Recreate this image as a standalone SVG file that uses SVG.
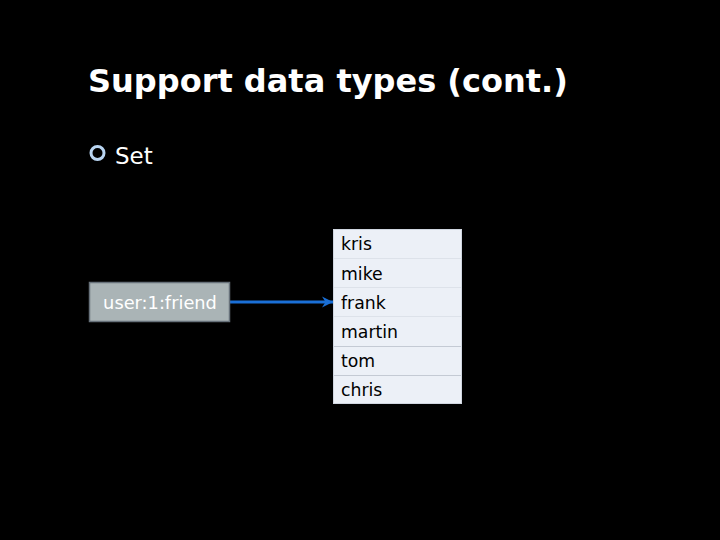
<svg xmlns="http://www.w3.org/2000/svg" width="720" height="540" viewBox="0 0 720 540">
<defs>
<style>
.t{font-family:"DejaVu Sans","Liberation Sans",sans-serif}
.item{font-size:17.3px;fill:#000}
.sep{stroke:#dde2ea;stroke-width:1}
.sep2{stroke:#c4cad4;stroke-width:1}
</style>
<marker id="ah" markerWidth="14" markerHeight="14" refX="12" refY="7" orient="auto" markerUnits="userSpaceOnUse">
<path d="M1,1.5 L12,7 L1,12.5 L4.5,7 Z" fill="#1a6fd6"/>
</marker>
</defs>
<rect width="720" height="540" fill="#000"/>
<text class="t" x="88" y="92" font-size="32" font-weight="bold" fill="#fff">Support data types (cont.)</text>
<circle cx="97.5" cy="153" r="6.5" fill="none" stroke="#b9d5f2" stroke-width="3"/>
<text class="t" x="115" y="164" font-size="23" fill="#fff">Set</text>
<g id="connectors">
<line x1="230" y1="302" x2="333" y2="302" stroke="#1a6fd6" stroke-width="3" marker-end="url(#ah)"/>
</g>
<g id="node-key">
<rect x="89.5" y="282.5" width="140" height="39" fill="#aab4b6" stroke="#67717a" stroke-width="1.5"/>
<text class="t" x="160" y="309" font-size="17.8" fill="#fff" text-anchor="middle">user:1:friend</text>
</g>
<g id="node-set">
<rect x="333.5" y="229.5" width="128" height="174" fill="#ecf0f7" stroke="#d0d6e0" stroke-width="1"/>
<line class="sep" x1="334" y1="258.5" x2="461" y2="258.5"/>
<line class="sep" x1="334" y1="287.5" x2="461" y2="287.5"/>
<line class="sep" x1="334" y1="316.5" x2="461" y2="316.5"/>
<line class="sep2" x1="334" y1="346.5" x2="461" y2="346.5"/>
<line class="sep2" x1="334" y1="375.5" x2="461" y2="375.5"/>
<text class="t item" x="341" y="250">kris</text>
<text class="t item" x="341" y="279.5">mike</text>
<text class="t item" x="341" y="308.5">frank</text>
<text class="t item" x="341" y="337.5">martin</text>
<text class="t item" x="341" y="367">tom</text>
<text class="t item" x="341" y="396">chris</text>
</g>
</svg>
